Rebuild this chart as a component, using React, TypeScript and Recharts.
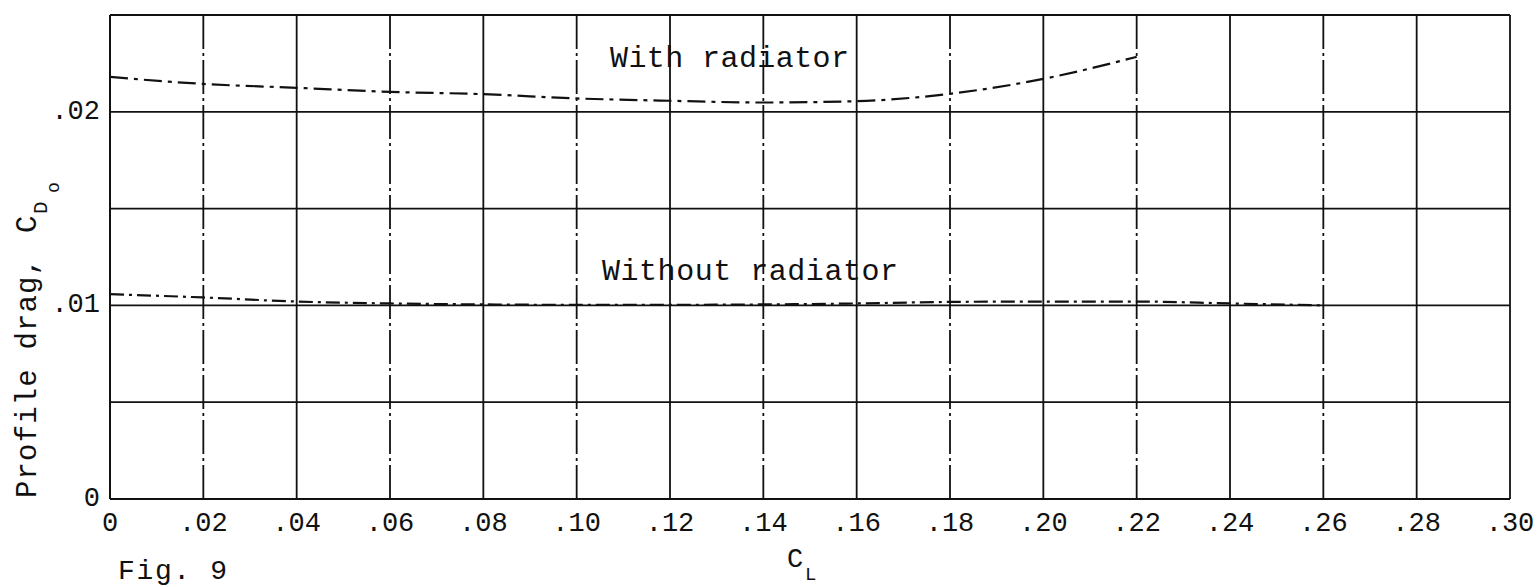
import { CartesianGrid, Line, LineChart, ReferenceLine, XAxis, YAxis } from 'recharts'

// CL points (profile drag per series, null where the curve stops)
const liftCoeffs = [0, 0.02, 0.04, 0.06, 0.08, 0.1, 0.12, 0.14, 0.16, 0.18, 0.2, 0.22, 0.24, 0.26]
const withRadiator = [0.0218, 0.02144, 0.02124, 0.02103, 0.02091, 0.02069, 0.02057, 0.02048, 0.02055, 0.02093, 0.0217, 0.02284, null, null]
const withoutRadiator = [0.01058, 0.01041, 0.0102, 0.0101, 0.01005, 0.01003, 0.01003, 0.01005, 0.0101, 0.01018, 0.0102, 0.0102, 0.0101, 0.01]

const xTicks = [0, 0.02, 0.04, 0.06, 0.08, 0.1, 0.12, 0.14, 0.16, 0.18, 0.2, 0.22, 0.24, 0.26, 0.28, 0.3]
const xTickLabels = ['0', '.02', '.04', '.06', '.08', '.10', '.12', '.14', '.16', '.18', '.20', '.22', '.24', '.26', '.28', '.30']
const yTicks = [0, 0.005, 0.01, 0.015, 0.02, 0.025]
const yTickLabels = ['0', '', '.01', '', '.02', '']

const data = liftCoeffs.map((cl, i) => ({ cl, withRad: withRadiator[i], withoutRad: withoutRadiator[i] }))

const ink = '#111'
const font = '"Liberation Mono", "DejaVu Sans Mono", monospace'

function XTick(props: any) {
  const { x, y, payload } = props
  const i = xTicks.findIndex((t) => Math.abs(t - payload.value) < 1e-9)
  return (
    <text x={x} y={y + 32} textAnchor="middle" fontSize={27} fontFamily={font} fill={ink}>
      {xTickLabels[i]}
    </text>
  )
}

function YTick(props: any) {
  const { x, y, payload } = props
  const i = yTicks.findIndex((t) => Math.abs(t - payload.value) < 1e-9)
  return (
    <text x={x - 10} y={y + 7} textAnchor="end" fontSize={27} fontFamily={font} fill={ink}>
      {yTickLabels[i]}
    </text>
  )
}

export default function App() {
  return (
    <div style={{ position: 'absolute', left: 0, top: 0, width: 1539, height: 587, background: '#fff' }}>
      <LineChart width={1539} height={587} data={data} margin={{ top: 15, right: 29, bottom: 0, left: 0 }}>
        <CartesianGrid vertical={false} stroke={ink} strokeWidth={1.8} />
        <XAxis
          type="number"
          dataKey="cl"
          domain={[0, 0.3]}
          ticks={xTicks}
          height={88}
          tickSize={0}
          tickMargin={0}
          tick={<XTick />}
          axisLine={{ stroke: ink, strokeWidth: 2 }}
          tickLine={false}
        />
        <YAxis
          type="number"
          domain={[0, 0.025]}
          ticks={yTicks}
          width={110}
          tickSize={0}
          tickMargin={0}
          tick={<YTick />}
          axisLine={{ stroke: ink, strokeWidth: 2 }}
          tickLine={false}
        />
        {/* grid verticals on the original alternate between solid and dash-dot */}
        {xTicks.slice(1).map((t, i) => (
          <ReferenceLine
            key={`vx-${t}`}
            x={t}
            stroke={ink}
            strokeWidth={1.8}
            strokeDasharray={i % 2 === 0 && t < 0.29 ? '34 4 3 4' : undefined}
          />
        ))}
        <Line
          dataKey="withRad"
          type="monotone"
          stroke={ink}
          strokeWidth={2.2}
          strokeDasharray="18 6 4 6"
          dot={false}
          isAnimationActive={false}
        />
        <Line
          dataKey="withoutRad"
          type="monotone"
          stroke={ink}
          strokeWidth={2.2}
          strokeDasharray="14 5 3 5"
          dot={false}
          isAnimationActive={false}
        />
      </LineChart>
      <svg width={1539} height={587} style={{ position: 'absolute', left: 0, top: 0, pointerEvents: 'none' }}>
        <g fontFamily={font} fill={ink}>
          <text x={610} y={67} fontSize={30} textLength={239} lengthAdjust="spacing">With radiator</text>
          <text x={602} y={280} fontSize={30} textLength={296} lengthAdjust="spacing">Without radiator</text>
          <text x={787} y={567} fontSize={27}>C</text>
          <text x={805} y={580} fontSize={19}>L</text>
          <text x={118} y={579} fontSize={28} textLength={109} lengthAdjust="spacing">Fig. 9</text>
          <g transform="translate(36,498) rotate(-90)">
            <text x={0} y={0} fontSize={29} textLength={240} lengthAdjust="spacing">Profile drag,</text>
            <text x={265} y={0} fontSize={29}>C</text>
            <text x={284} y={11} fontSize={21}>D</text>
            <text x={305} y={23} fontSize={18}>o</text>
          </g>
        </g>
      </svg>
    </div>
  )
}
